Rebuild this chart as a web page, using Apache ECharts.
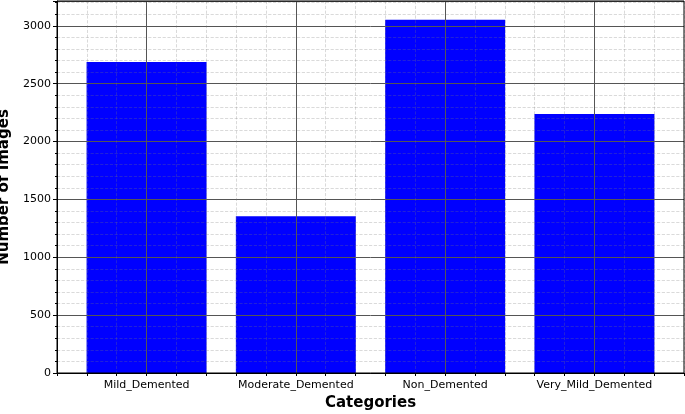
<!DOCTYPE html>
<html><head><meta charset="utf-8">
<script src="https://cdn.jsdelivr.net/npm/echarts@6/dist/echarts.min.js"></script>
<style>html,body{margin:0;padding:0;background:#fff}#c{width:685px;height:414px}</style>
</head><body><div id="c"></div>
<script>
const categories = ['Mild_Demented', 'Moderate_Demented', 'Non_Demented', 'Very_Mild_Demented']
const counts = [2688, 1355, 3052, 2238]
const yTicks = [0, 500, 1000, 1500, 2000, 2500, 3000]

const chart = echarts.init(document.getElementById('c'))
const font = 'DejaVu Sans'
const T = 'rgba(0,0,0,0)'
const MINOR = 'rgba(120,120,120,0.35)'

function isMajor(v) {
  return Math.abs(v - Math.round(v)) < 1e-6
}

chart.setOption({
  animation: false,
  textStyle: { fontFamily: font },
  grid: {
    left: 57, right: 1, top: 1, bottom: 41, containLabel: false, outerBoundsMode: 'none',
    show: true, borderColor: '#000', borderWidth: 1, z: 6,
  },
  xAxis: [
    {
      type: 'value', min: -0.6, max: 3.6, interval: 0.2, z: 5,
      axisLine: { lineStyle: { color: '#000' } },
      axisTick: { length: 3, lineStyle: { color: '#000' } },
      axisLabel: {
        color: '#000', fontSize: 11, margin: 7, showMinLabel: true, showMaxLabel: true,
        formatter: (v) => (isMajor(v) && v >= 0 && v <= 3 ? categories[Math.round(v)] : ''),
      },
      name: 'Categories', nameLocation: 'middle', nameGap: 23,
      nameTextStyle: { fontSize: 15, fontWeight: 'bold', color: '#000' },
      splitLine: { show: true, lineStyle: { color: [T, T, T, '#555', T], width: 1 } },
    },
    {
      type: 'value', min: -0.6, max: 3.6, interval: 0.2, z: 5, show: true,
      axisLine: { show: false }, axisTick: { show: false }, axisLabel: { show: false },
      splitLine: { show: true, lineStyle: { color: [MINOR, MINOR, MINOR, T, MINOR], type: 'dashed', width: 0.8 } },
    },
  ],
  yAxis: {
    type: 'value', min: 0, max: 3215, interval: 500, z: 5,
    axisLine: { show: true, onZero: false, lineStyle: { color: '#000' } },
    axisTick: { show: true, length: 4, lineStyle: { color: '#000' } },
    minorTick: { show: true, splitNumber: 5, length: 2, lineStyle: { color: '#000' } },
    axisLabel: { color: '#000', fontSize: 11, margin: 6, showMaxLabel: false,
      formatter: (v) => (yTicks.includes(v) ? String(v) : '') },
    splitLine: { show: true, lineStyle: { color: '#555', width: 1 } },
    minorSplitLine: { show: true, lineStyle: { color: MINOR, type: 'dashed', width: 0.8 } },
    name: 'Number of Images', nameLocation: 'middle', nameGap: 40,
    nameTextStyle: { fontSize: 15, fontWeight: 'bold', color: '#000' },
  },
  series: [
    {
      type: 'bar', xAxisIndex: 0, barWidth: 120,
      itemStyle: { color: '#0000ff' },
      data: counts.map((v, i) => [i, v]),
    },
  ],
})
</script></body></html>
